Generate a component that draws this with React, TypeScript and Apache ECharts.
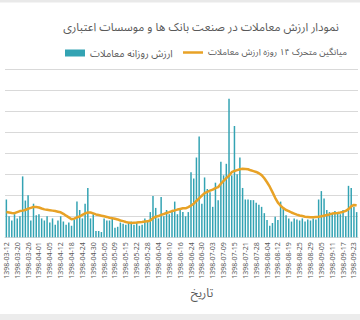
import { useEffect, useRef } from "react";
import * as echarts from "echarts";

// Trading days (Tehran exchange calendar, 1398)
const dates = [
  "1398-03-12", "1398-03-13", "1398-03-18", "1398-03-19", "1398-03-20", "1398-03-21", "1398-03-22", "1398-03-25",
  "1398-03-26", "1398-03-27", "1398-03-28", "1398-03-29", "1398-04-01", "1398-04-02", "1398-04-03", "1398-04-04",
  "1398-04-05", "1398-04-09", "1398-04-10", "1398-04-11", "1398-04-12", "1398-04-15", "1398-04-16", "1398-04-17",
  "1398-04-18", "1398-04-19", "1398-04-22", "1398-04-23", "1398-04-24", "1398-04-25", "1398-04-26", "1398-04-29",
  "1398-04-30", "1398-04-31", "1398-05-01", "1398-05-02", "1398-05-05", "1398-05-06", "1398-05-07", "1398-05-08",
  "1398-05-09", "1398-05-12", "1398-05-13", "1398-05-14", "1398-05-15", "1398-05-16", "1398-05-19", "1398-05-20",
  "1398-05-22", "1398-05-23", "1398-05-26", "1398-05-27", "1398-05-28", "1398-05-30", "1398-06-02", "1398-06-03",
  "1398-06-04", "1398-06-05", "1398-06-06", "1398-06-09", "1398-06-10", "1398-06-11", "1398-06-12", "1398-06-13",
  "1398-06-16", "1398-06-17", "1398-06-20", "1398-06-23", "1398-06-24", "1398-06-25", "1398-06-26", "1398-06-27",
  "1398-06-30", "1398-06-31", "1398-07-01", "1398-07-02", "1398-07-03", "1398-07-06", "1398-07-07", "1398-07-08",
  "1398-07-09", "1398-07-10", "1398-07-13", "1398-07-14", "1398-07-15", "1398-07-16", "1398-07-17", "1398-07-20",
  "1398-07-21", "1398-07-22", "1398-07-23", "1398-07-24", "1398-07-28", "1398-07-29", "1398-07-30", "1398-08-01",
  "1398-08-04", "1398-08-06", "1398-08-08", "1398-08-11", "1398-08-12", "1398-08-13", "1398-08-14", "1398-08-18",
  "1398-08-19", "1398-08-20", "1398-08-21", "1398-08-22", "1398-08-25", "1398-08-26", "1398-08-27", "1398-08-28",
  "1398-08-29", "1398-09-02", "1398-09-03", "1398-09-04", "1398-09-05", "1398-09-06", "1398-09-09", "1398-09-10",
  "1398-09-11", "1398-09-12", "1398-09-13", "1398-09-16", "1398-09-17", "1398-09-18", "1398-09-19", "1398-09-20",
  "1398-09-23", "1398-09-24",
];

// Daily trading value (thousands)
const dailyValue = [
  1.8, 1.0, 0.8, 1.1, 0.9, 1.0, 2.9, 1.75, 2.0, 0.8, 1.6, 1.05, 1.1, 0.9, 0.8, 1.0,
  0.7, 0.9, 0.6, 0.8, 1.0, 0.75, 0.6, 0.7, 0.55, 0.85, 1.7, 1.3, 0.9, 1.6, 2.35, 0.9,
  1.1, 0.3, 0.3, 0.25, 0.9, 0.8, 0.8, 0.9, 0.45, 0.5, 0.7, 0.65, 0.6, 0.7, 0.75, 0.6,
  0.7, 0.55, 0.6, 0.9, 0.75, 1.2, 1.97, 1.4, 0.9, 1.92, 1.0, 1.3, 1.1, 1.2, 1.7, 1.1,
  1.3, 1.2, 1.0, 1.2, 3.1, 2.8, 3.8, 4.8, 1.6, 2.85, 2.3, 2.15, 1.45, 2.6, 1.77, 3.6,
  2.95, 3.5, 6.6, 2.95, 5.3, 3.0, 3.8, 2.35, 1.8, 1.8, 1.77, 1.77, 1.64, 1.55, 1.45, 1.15,
  0.82, 0.55, 0.68, 0.98, 0.82, 1.7, 1.37, 1.05, 0.9, 0.75, 0.9, 0.85, 0.8, 0.9, 0.75, 0.85,
  0.8, 0.9, 0.85, 1.8, 2.2, 1.85, 1.3, 1.2, 1.15, 1.25, 1.2, 1.1, 1.3, 1.0, 2.45, 2.35,
  1.45, 1.2,
];

// 14-day moving average of the trading value (thousands)
const movingAvg14 = [
  1.2, 1.18, 1.16, 1.15, 1.2, 1.25, 1.27, 1.3, 1.36, 1.4, 1.44, 1.44, 1.42, 1.37, 1.33, 1.31,
  1.29, 1.27, 1.25, 1.22, 1.19, 1.12, 1.03, 0.95, 0.86, 0.89, 0.95, 0.99, 1.07, 1.14, 1.18, 1.18,
  1.14, 1.09, 1.06, 1.03, 1.0, 0.97, 0.93, 0.91, 0.88, 0.85, 0.8, 0.77, 0.73, 0.7, 0.68, 0.69,
  0.7, 0.72, 0.73, 0.75, 0.76, 0.8, 0.91, 0.98, 1.01, 1.07, 1.11, 1.16, 1.2, 1.25, 1.28, 1.32,
  1.35, 1.38, 1.38, 1.44, 1.51, 1.6, 1.73, 1.85, 1.98, 2.1, 2.16, 2.22, 2.27, 2.34, 2.39, 2.55,
  2.69, 2.82, 2.93, 3.1, 3.16, 3.2, 3.24, 3.26, 3.25, 3.24, 3.19, 3.15, 3.11, 3.05, 2.96, 2.81,
  2.62, 2.41, 2.15, 1.88, 1.65, 1.5, 1.39, 1.3, 1.25, 1.18, 1.13, 1.08, 1.04, 1.01, 0.98, 0.97,
  0.96, 0.96, 0.97, 0.98, 1.0, 1.03, 1.06, 1.09, 1.13, 1.15, 1.16, 1.18, 1.21, 1.26, 1.34, 1.47,
  1.54, 1.53,
];

const TITLE = "نمودار ارزش معاملات در صنعت بانک ها و موسسات اعتباری";
const BAR_NAME = "ارزش روزانه معاملات";
const LINE_NAME = "میانگین متحرک ۱۴ روزه ارزش معاملات";
const AXIS_NAME = "تاریخ";

const FONT = "'Noto Sans Arabic', 'Noto Naskh Arabic', 'Vazirmatn', 'Noto Sans', 'DejaVu Sans', sans-serif";
const TEXT_COLOR = "#595959";
const BAR_COLOR = "#33a3b3";
const LINE_COLOR = "#e8a226";

export default function App() {
  const ref = useRef<HTMLDivElement>(null);

  useEffect(() => {
    if (!ref.current) return;
    const chart = echarts.init(ref.current, null, { renderer: "svg" });
    chart.setOption({
      animation: false,
      backgroundColor: "#ffffff",
      textStyle: { fontFamily: FONT },
      grid: { left: 5, right: 2, top: 69.3, bottom: 82.7, containLabel: false },
      legend: [
        {
          left: 60,
          top: 43,
          itemWidth: 20,
          itemHeight: 7,
          textStyle: { fontSize: 10, color: TEXT_COLOR, fontFamily: FONT },
          data: [{ name: BAR_NAME, icon: "rect" }],
        },
        {
          left: 178,
          top: 43,
          itemWidth: 20,
          itemHeight: 2.5,
          textStyle: { fontSize: 9, color: TEXT_COLOR, fontFamily: FONT },
          data: [{ name: LINE_NAME, icon: "rect" }],
        },
      ],
      xAxis: {
        type: "category",
        data: dates,
        axisLine: { show: true, lineStyle: { color: "#d9d9d9" } },
        axisTick: { show: false },
        axisLabel: {
          interval: 3,
          rotate: 90,
          fontSize: 7,
          lineHeight: 8,
          color: TEXT_COLOR,
          margin: 5,
          fontFamily: FONT,
        },
      },
      yAxis: {
        type: "value",
        min: 0,
        max: 8,
        interval: 1,
        axisLabel: { show: false },
        axisLine: { show: false },
        axisTick: { show: false },
        splitLine: { lineStyle: { color: "#d9d9d9", width: 1 } },
      },
      series: [
        {
          name: BAR_NAME,
          type: "bar",
          data: dailyValue,
          barCategoryGap: "45%",
          itemStyle: { color: BAR_COLOR },
        },
        {
          name: LINE_NAME,
          type: "line",
          data: movingAvg14,
          symbol: "none",
          lineStyle: { color: LINE_COLOR, width: 2.5 },
          itemStyle: { color: LINE_COLOR },
          z: 3,
        },
      ],
      graphic: [
        { type: "rect", shape: { x: 0, y: 0, width: 360, height: 2.5 }, style: { fill: "#e9e9e9" } },
        { type: "rect", shape: { x: 0, y: 314, width: 360, height: 6 }, style: { fill: "#ececec" } },
        {
          type: "text",
          x: 201,
          y: 27,
          style: {
            text: TITLE,
            fontSize: 11.5,
            fontFamily: FONT,
            fill: TEXT_COLOR,
            textAlign: "center",
            textVerticalAlign: "middle",
          },
        },
        {
          type: "text",
          x: 202,
          y: 293,
          style: {
            text: AXIS_NAME,
            fontSize: 12,
            fontFamily: FONT,
            fill: TEXT_COLOR,
            textAlign: "center",
            textVerticalAlign: "middle",
          },
        },
      ],
    });
    return () => chart.dispose();
  }, []);

  return (
    <div
      ref={ref}
      style={{ position: "absolute", left: 0, top: 0, width: 360, height: 320, background: "#ffffff" }}
    />
  );
}
